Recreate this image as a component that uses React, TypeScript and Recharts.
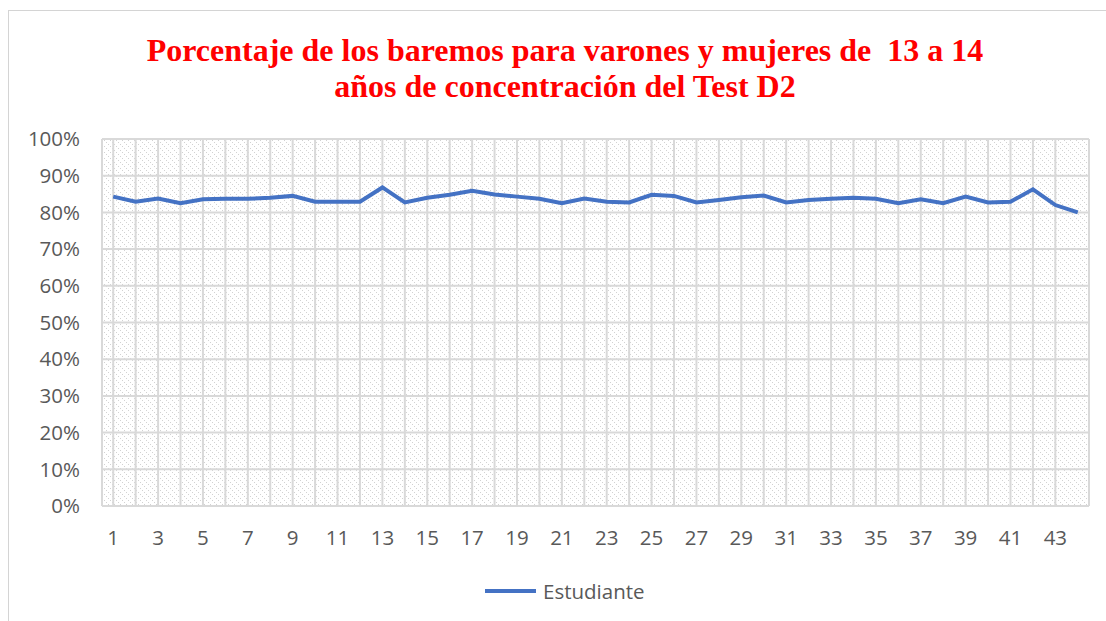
import React from 'react';
import { LineChart, Line, XAxis, YAxis, CartesianGrid } from 'recharts';

const categories = [
  1, 2, 3, 4, 5, 6, 7, 8, 9, 10, 11, 12, 13, 14, 15, 16, 17, 18, 19, 20, 21, 22,
  23, 24, 25, 26, 27, 28, 29, 30, 31, 32, 33, 34, 35, 36, 37, 38, 39, 40, 41, 42, 43, 44,
];

const estudiante = [
  0.843, 0.829, 0.838, 0.825, 0.836, 0.837, 0.837, 0.84, 0.845, 0.829, 0.829, 0.829,
  0.868, 0.827, 0.84, 0.848, 0.859, 0.849, 0.843, 0.837, 0.825, 0.838, 0.829, 0.827,
  0.848, 0.845, 0.827, 0.834, 0.841, 0.846, 0.827, 0.834, 0.837, 0.84, 0.837, 0.825,
  0.836, 0.825, 0.843, 0.827, 0.829, 0.863, 0.82, 0.8,
];

const xTicks = [1, 3, 5, 7, 9, 11, 13, 15, 17, 19, 21, 23, 25, 27, 29, 31, 33, 35, 37, 39, 41, 43];
const yTicks = [0, 0.1, 0.2, 0.3, 0.4, 0.5, 0.6, 0.7, 0.8, 0.9, 1];

// gridlines sit on every category and every boundary between them
const gridTicks = Array.from({ length: categories.length * 2 + 1 }, (_, i) => 0.5 + i / 2);

const data = categories.map((c, i) => ({ cat: c, value: estudiante[i] }));

const titleLines = ['Porcentaje de los baremos para varones y mujeres de  13 a 14', 'años de concentración del Test D2'];

const axisFont = { fill: '#595959', fontSize: 20.5, fontFamily: '"Open Sans", sans-serif' };

export default function App() {
  return (
    <div style={{ position: 'relative', width: 1106, height: 621, overflow: 'hidden', background: '#fff' }}>
      <style>{`body{margin:0;overflow:hidden}`}</style>
      <div
        style={{
          position: 'absolute',
          left: 8,
          top: 10,
          width: 1110,
          height: 620,
          border: '1px solid #d4d4d4',
          boxSizing: 'border-box',
        }}
      />
      <div
        style={{
          position: 'absolute',
          left: 565,
          top: 33,
          transform: 'translateX(-50%)',
          color: '#ff0000',
          fontFamily: '"Liberation Serif", "Times New Roman", serif',
          fontWeight: 'bold',
          fontSize: 32,
          lineHeight: '35.6px',
          textAlign: 'center',
          whiteSpace: 'pre',
        }}
      >
        {titleLines.map(t => (
          <div key={t}>{t}</div>
        ))}
      </div>
      <LineChart
        width={1106}
        height={621}
        data={data}
        margin={{ top: 139, right: 17, bottom: 85, left: 0 }}
        style={{ position: 'absolute', left: 0, top: 0 }}
      >
        <defs>
          <pattern id="hatch" width="6" height="6" patternUnits="userSpaceOnUse">
            <rect width="6" height="6" fill="#ffffff" />
            <rect x="0" y="0" width="1" height="1" fill="#d2d2d2" />
            <rect x="2" y="2" width="1" height="1" fill="#d2d2d2" />
            <rect x="4" y="4" width="1" height="1" fill="#d2d2d2" />
          </pattern>
        </defs>
        <CartesianGrid
          xAxisId="grid"
          stroke="#d9d9d9"
          strokeWidth={2}
          fill="url(#hatch)"
          fillOpacity={1}
        />
        <XAxis
          xAxisId="grid"
          type="number"
          dataKey="cat"
          domain={[0.5, 44.5]}
          ticks={gridTicks}
          hide
        />
        <XAxis
          type="number"
          dataKey="cat"
          domain={[0.5, 44.5]}
          ticks={xTicks}
          interval={0}
          height={30}
          axisLine={false}
          tickLine={false}
          tickSize={0}
          tickMargin={24}
          tick={axisFont}
        />
        <YAxis
          type="number"
          domain={[0, 1]}
          ticks={yTicks}
          width={102}
          axisLine={false}
          tickLine={false}
          tickSize={0}
          tickMargin={22}
          tick={axisFont}
          tickFormatter={(v: number) => `${Math.round(v * 100)}%`}
        />
        <Line
          dataKey="value"
          stroke="#4472c4"
          strokeWidth={4}
          dot={false}
          activeDot={false}
          isAnimationActive={false}
        />
      </LineChart>
      <div
        style={{
          position: 'absolute',
          left: 485,
          top: 577,
          height: 28,
          display: 'flex',
          alignItems: 'center',
          fontFamily: '"Open Sans", sans-serif',
          fontSize: 20.5,
          color: '#595959',
        }}
      >
        <svg width={58} height={8}>
          <line x1={0} y1={4} x2={51} y2={4} stroke="#4472c4" strokeWidth={4} />
        </svg>
        <span>Estudiante</span>
      </div>
    </div>
  );
}
